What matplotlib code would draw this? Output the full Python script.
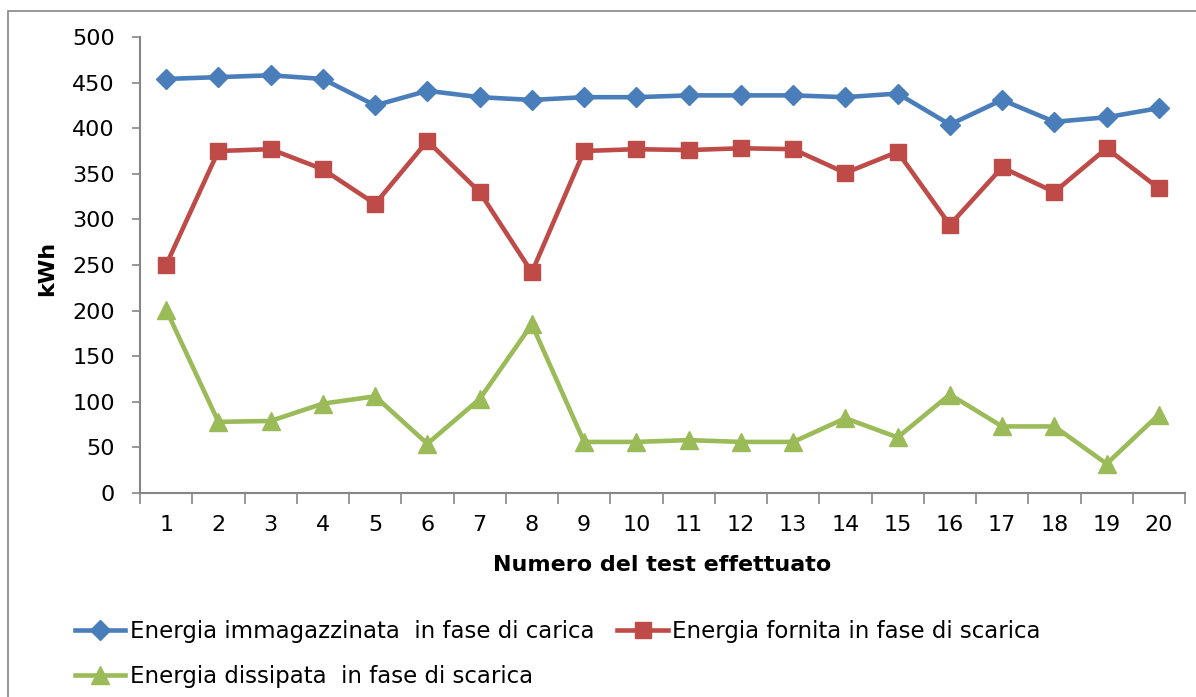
import numpy as np
import matplotlib.pyplot as plt
from matplotlib.patches import Rectangle
from matplotlib.ticker import FixedLocator, NullFormatter

# ── Data ───────────────────────────────────────────────────────────────────
test_num = list(range(1, 21))
immagazzinata = [454, 456, 458, 454, 425, 441, 434, 431, 434, 434,
                 436, 436, 436, 434, 438, 404, 431, 407, 412, 422]
fornita = [250, 375, 377, 355, 317, 386, 330, 242, 375, 377,
           376, 378, 377, 351, 374, 294, 357, 330, 378, 334]
dissipata = [201, 78, 79, 98, 106, 54, 103, 185, 56, 56,
             58, 56, 56, 82, 61, 108, 73, 73, 32, 86]

labels = ["Energia immagazzinata  in fase di carica",
          "Energia fornita in fase di scarica",
          "Energia dissipata  in fase di scarica"]

# ── Style ──────────────────────────────────────────────────────────────────
plt.rcParams["font.family"] = ["DejaVu Sans"]
axis_gray = "#868686"
blue, red, green = "#4A7EBB", "#BE4B48", "#9BBB59"

W, H = 1196, 697
fig = plt.figure(figsize=(W / 100, H / 100), dpi=100)
ax = fig.add_axes([140 / W, (H - 493) / H, (1185 - 140) / W, (493 - 37) / H])

l1, = ax.plot(test_num, immagazzinata, color=blue, lw=3.3, marker="D",
              ms=10.5, label=labels[0])
l2, = ax.plot(test_num, fornita, color=red, lw=3.3, marker="s",
              ms=12, label=labels[1])
l3, = ax.plot(test_num, dissipata, color=green, lw=3.3, marker="^",
              ms=13, label=labels[2])

# ── Axes ───────────────────────────────────────────────────────────────────
ax.set_xlim(0.5, 20.5)
ax.set_ylim(0, 500)
ax.set_yticks(np.arange(0, 501, 50))
ax.tick_params(axis="y", labelsize=16, length=6, width=1.2, color=axis_gray,
               pad=12)

# category boundaries get tick marks, category centres get the labels
ax.xaxis.set_major_locator(FixedLocator(np.arange(0.5, 21, 1)))
ax.xaxis.set_major_formatter(NullFormatter())
ax.xaxis.set_minor_locator(FixedLocator(test_num))
ax.set_xticklabels([str(n) for n in test_num], minor=True)
ax.tick_params(axis="x", which="major", length=8, width=1.2, color=axis_gray)
ax.tick_params(axis="x", which="minor", length=0, labelsize=16, pad=16)

for side in ["top", "right"]:
    ax.spines[side].set_visible(False)
for side in ["left", "bottom"]:
    ax.spines[side].set_color(axis_gray)
    ax.spines[side].set_linewidth(1.5)

ax.set_xlabel("Numero del test effettuato", fontsize=16, fontweight="bold")
ax.xaxis.set_label_coords(0.5, -0.135)
ax.set_ylabel("kWh", fontsize=16, fontweight="bold")
ax.yaxis.set_label_coords(-0.079, 0.493)

# ── Legend (blue, green in first column; red in second) ────────────────────
fig.legend([l1, l3, l2], [labels[0], labels[2], labels[1]],
           loc="upper left", bbox_to_anchor=(75 / W, 1 - 620 / H),
           ncol=2, frameon=False, fontsize=16.5, handlelength=2.2,
           handletextpad=0.2, columnspacing=1.0, labelspacing=0.95,
           borderpad=0, borderaxespad=0, markerscale=1.0)

# chart-area border (left and top edges visible in the crop)
fig.add_artist(Rectangle((8 / W, -0.05), 1.1, 1 - 11 / H + 0.05,
                         transform=fig.transFigure, fill=False,
                         edgecolor=axis_gray, lw=1.2))

fig.savefig("out.png", dpi=100)
